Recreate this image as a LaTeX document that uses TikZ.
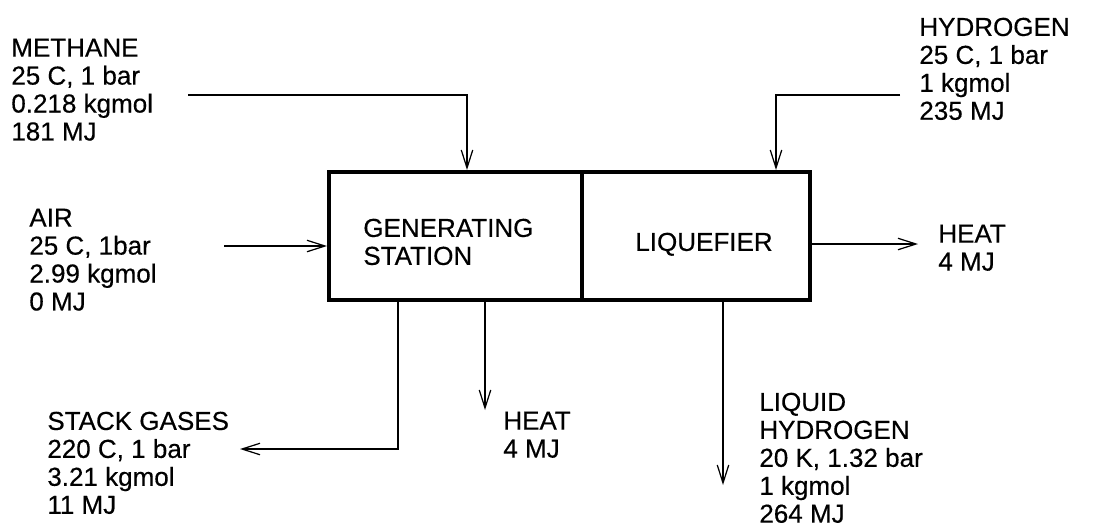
\documentclass[tikz,border=0pt]{standalone}
\usepackage{fontspec}
\setmainfont{Liberation Sans}
\newfontfamily\tagfont{Liberation Sans}[FakeBold=0.4]
\usetikzlibrary{arrows.meta}

\begin{document}
\begin{tikzpicture}[x=0.2mm,y=-0.2mm,>={Straight Barb[length=3.6mm,width=2.3mm]},
  unit/.style={draw,line width=2.3pt,minimum height=25.6mm,inner sep=0pt},
  stream/.style={->,line width=0.7pt},
  tag/.style={anchor=north west,inner sep=0pt,align=left},
  every node/.style={font=\tagfont\fontsize{14.8pt}{15.9pt}\selectfont}]
\useasboundingbox (0,0) rectangle (1093,524);

% process units
\node[unit,minimum width=50.6mm] (gen) at (455.5,236) {};
\node[unit,minimum width=45.6mm] (liq) at (696,236) {};
\node[tag] (genTxt) at (363,218.4) {GENERATING\\STATION};
\node[tag] (liqTxt) at (635,232.4) {LIQUEFIER};

% stream labels
\node[tag] (methane) at (11,38.4) {METHANE\\25 C, 1 bar\\0.218 kgmol\\181 MJ};
\node[tag] (air) at (29,208.4) {AIR\\25 C, 1bar\\2.99 kgmol\\0 MJ};
\node[tag] (hydrogen) at (919,17.4) {HYDROGEN\\25 C, 1 bar\\1 kgmol\\235 MJ};
\node[tag] (heatR) at (938,224.4) {HEAT\\4 MJ};
\node[tag] (stack) at (47,411.4) {STACK GASES\\220 C, 1 bar\\3.21 kgmol\\11 MJ};
\node[tag] (heatD) at (503,411.4) {HEAT\\4 MJ};
\node[tag] (liquid) at (759,392.4) {LIQUID\\HYDROGEN\\20 K, 1.32 bar\\1 kgmol\\264 MJ};

% free ends of the streams
\coordinate (mIn) at (188,95);
\coordinate (hIn) at (900,95);
\coordinate (aIn) at (224,246);
\coordinate (hOut) at (918,244);
\coordinate (sOut) at (240,449);
\coordinate (qOut) at (485,410);
\coordinate (lOut) at (723,485);

% streams
\draw[stream] (mIn) -| ([xshift=2.3mm]gen.north);
\draw[stream] (hIn) -| ([xshift=16mm]liq.north);
\draw[stream] (aIn) -- (aIn -| gen.west);
\draw[stream] (hOut -| liq.east) -- (hOut);
\draw[stream] ([xshift=-11.5mm]gen.south) |- (sOut);
\draw[stream] (qOut |- gen.south) -- (qOut);
\draw[stream] (lOut |- liq.south) -- (lOut);
\end{tikzpicture}
\end{document}
